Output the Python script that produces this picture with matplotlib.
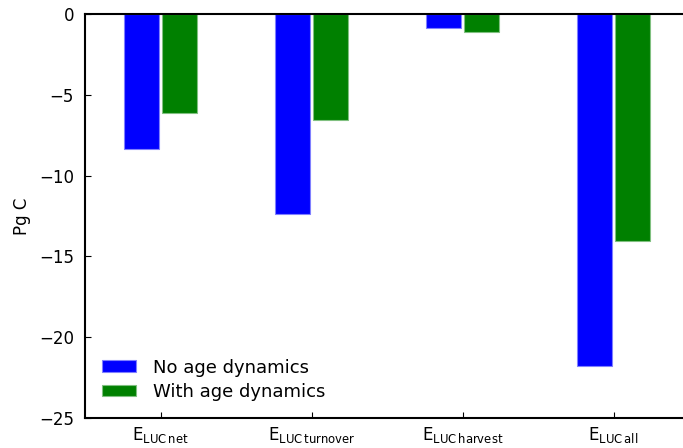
import numpy as np
import matplotlib
matplotlib.use("Agg")
import matplotlib.pyplot as plt

# Cumulative land-use emissions by component (Pg C)
components = [r"$\mathrm{E_{LUC\,net}}$", r"$\mathrm{E_{LUC\,turnover}}$",
              r"$\mathrm{E_{LUC\,harvest}}$", r"$\mathrm{E_{LUC\,all}}$"]
no_age = [-8.35, -12.36, -0.89, -21.8]
with_age = [-6.15, -6.54, -1.14, -14.04]

plt.rcParams["font.family"] = "DejaVu Sans"
plt.rcParams["mathtext.fontset"] = "dejavusans"
plt.rcParams["font.size"] = 12

fig = plt.figure(figsize=(6.83, 4.48), dpi=100)
# axes run past the right edge of the figure
ax = fig.add_axes([85/683, 30/448, 604/683, 404/448])

x = np.arange(len(components))
w = 0.235
ax.bar(x - 0.125, no_age, w, color="#0000ff", edgecolor="#8080ff", linewidth=0.8,
       label="No age dynamics")
ax.bar(x + 0.125, with_age, w, color="#008000", edgecolor="#80c080", linewidth=0.8,
       label="With age dynamics")

ax.set_xlim(-0.5, 3.5)
ax.set_ylim(-25, 0)
ax.set_yticks([-25, -20, -15, -10, -5, 0])
ax.set_xticks(x)
ax.set_xticklabels(components)
ax.set_ylabel("Pg C", labelpad=6)
ax.tick_params(direction="in", length=4, width=0.8, right=True)
ax.tick_params(axis="y", pad=8)
ax.tick_params(axis="x", pad=5)
for s in ax.spines.values():
    s.set_linewidth(1.5)

ax.legend(loc="lower left", frameon=False, handlelength=1.9, handleheight=0.6,
          handletextpad=0.9, borderaxespad=0.55, fontsize=13, labelspacing=0.35)

fig.savefig("out.png", dpi=100)
